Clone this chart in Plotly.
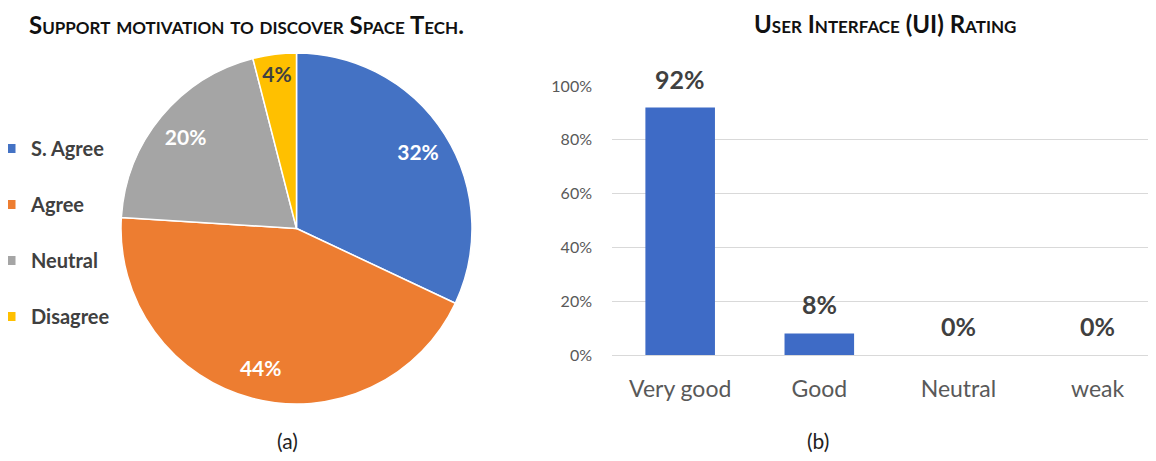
import plotly.graph_objects as go

# ---- data ----
pie_labels = ["S. Agree", "Agree", "Neutral", "Disagree"]
pie_values = [32, 44, 20, 4]
pie_colors = ["#4472C4", "#ED7D31", "#A5A5A5", "#FFC000"]
pie_text_colors = ["white", "white", "white", "#404040"]

bar_categories = ["Very good", "Good", "Neutral", "weak"]
bar_values = [0.92, 0.08, 0.0, 0.0]
bar_labels = ["92%", "8%", "0%", "0%"]
y_ticks = [0, 0.2, 0.4, 0.6, 0.8, 1.0]
y_ticktext = ["0%", "20%", "40%", "60%", "80%", "100%"]

FONT = "Lato"
W, H = 1156, 461
OFF = 8  # page body margin


def px(p):
    return (p - OFF) / W


def py(p):
    return 1 - (p - OFF) / H


fig = go.Figure()

pie_domain = dict(x=[px(121), px(472)], y=[py(404), py(53)])

# pie slices
fig.add_trace(go.Pie(
    labels=pie_labels, values=pie_values,
    sort=False, direction="clockwise", rotation=0,
    marker=dict(colors=pie_colors, line=dict(color="white", width=1.5)),
    textinfo="none",
    showlegend=False, automargin=False,
    domain=pie_domain, hoverinfo="skip",
))
# transparent ring carrying the percentage labels near the rim
fig.add_trace(go.Pie(
    labels=pie_labels, values=pie_values, hole=0.64,
    sort=False, direction="clockwise", rotation=0,
    marker=dict(colors=["rgba(0,0,0,0)"] * len(pie_values), line=dict(width=0)),
    texttemplate="%{percent:.0%}", textposition="inside",
    insidetextfont=dict(family=FONT, size=21, color=pie_text_colors, weight="bold"),
    insidetextorientation="horizontal",
    showlegend=False, automargin=False,
    domain=pie_domain, hoverinfo="skip",
))

# legend entries (one group each so spacing can be controlled)
for lab, col in zip(pie_labels, pie_colors):
    fig.add_trace(go.Scatter(
        x=[None], y=[None], mode="markers", name=lab, legendgroup=lab,
        marker=dict(symbol="square", size=9, color=col),
        showlegend=True,
    ))

fig.add_trace(go.Bar(
    x=bar_categories, y=bar_values, width=0.5,
    marker=dict(color="#3E6BC6", line=dict(width=0)),
    showlegend=False, hoverinfo="skip",
))

for c, v, t in zip(bar_categories, bar_values, bar_labels):
    fig.add_annotation(x=c, y=v, text=t, showarrow=False, yanchor="bottom", yshift=12,
                       font=dict(family=FONT, size=25, color="#404040", weight="bold"),
                       xref="x", yref="y")

fig.update_layout(
    template="none",
    width=W, height=H,
    margin=dict(l=0, r=0, t=0, b=0, autoexpand=False),
    paper_bgcolor="white", plot_bgcolor="white",
    font=dict(family=FONT, color="#595959"),
    legend=dict(x=-0.0147, xanchor="left", y=py(129), yanchor="top",
                traceorder="grouped", tracegroupgap=27,
                font=dict(family=FONT, size=20, color="#404040", weight="bold"),
                itemwidth=30, bgcolor="rgba(0,0,0,0)"),
    xaxis=dict(domain=[px(612), px(1156)], range=[-0.49, 3.42], type="category",
               showgrid=False, zeroline=False, showline=False, automargin=False,
               tickfont=dict(family=FONT, size=23, color="#595959"),
               ticks="", ticklabelstandoff=18),
    yaxis=dict(domain=[py(355), py(86)], range=[0, 1.0], automargin=False,
               tickvals=y_ticks, ticktext=y_ticktext,
               showgrid=True, gridcolor="#D9D9D9", gridwidth=1,
               zeroline=True, zerolinecolor="#D9D9D9", zerolinewidth=1,
               showline=False, ticks="",
               tickfont=dict(family=FONT, size=16, color="#595959"),
               ticklabelstandoff=19),
    bargap=0.5,
)

fig.add_annotation(x=px(246), y=py(OFF), xref="paper", yref="paper", showarrow=False,
                   xanchor="center", yanchor="top", borderpad=0, yshift=-1,
                   text="Support motivation to discover Space Tech.",
                   font=dict(family=FONT, size=24, color="#111111", weight="bold", variant="small-caps"))
fig.add_annotation(x=px(885), y=py(OFF), xref="paper", yref="paper", showarrow=False,
                   xanchor="center", yanchor="top", borderpad=0,
                   text="User Interface (UI) Rating",
                   font=dict(family=FONT, size=24, color="#111111", weight="bold", variant="small-caps"))
fig.add_annotation(x=px(287), y=py(440), xref="paper", yref="paper", showarrow=False,
                   xanchor="center", yanchor="middle",
                   text="(a)", font=dict(family=FONT, size=21, color="#222222"))
fig.add_annotation(x=px(818), y=py(440), xref="paper", yref="paper", showarrow=False,
                   xanchor="center", yanchor="middle",
                   text="(b)", font=dict(family=FONT, size=21, color="#222222"))

fig.write_html("out.html")
